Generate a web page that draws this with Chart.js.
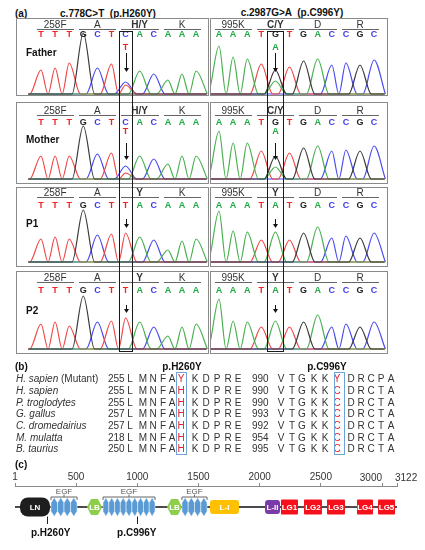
<!DOCTYPE html>
<html>
<head>
<meta charset="utf-8">
<title>Sanger traces, conservation and domain map</title>
<script src="https://cdn.jsdelivr.net/npm/chart.js@4.4.1/dist/chart.umd.min.js"></script>
<style>
  body { margin: 0; background: #fff; }
  #page { position: relative; width: 425px; height: 550px; overflow: hidden; font-family: "Liberation Sans", Arial, sans-serif; color: #222; }
  #page canvas { position: absolute; }
  .t { position: absolute; white-space: pre; line-height: 1; }
  .box { position: absolute; box-sizing: border-box; pointer-events: none; }
</style>
</head>
<body>
<div id="page"></div>
<script>
// ---------- (a) Sanger traces ----------
const leftCallsParent = 'TTTGCTCACAAA';
const leftCallsPatient = 'TTTGCTTACAAA';
const rightCallsParent = 'AAATGTGACCGC';
const rightCallsPatient = 'AAATATGACCGC';
const leftCodonsParent = ['258F', 'A', 'H/Y', 'K'];
const leftCodonsPatient = ['258F', 'A', 'Y', 'K'];
const rightCodonsParent = ['995K', 'C/Y', 'D', 'R'];
const rightCodonsPatient = ['995K', 'Y', 'D', 'R'];
const sampleNames = ['Father', 'Mother', 'P1', 'P2'];
const leftMutIndex = 6;
const rightMutIndex = 4;
const secondCalls = ['T', 'A'];

// peak heights (px above baseline)
const leftPeakHeights = [
  [24, 26, 31, 61, 26, 30, 12, 23, 20, 14, 20, 23],
  [23, 23, 23, 53, 25, 26, 13, 23, 20, 15, 23, 23],
  [23, 25, 23, 52, 27, 28, 29, 25, 22, 12, 21, 23],
  [25, 27, 23, 53, 27, 28, 31, 27, 22, 13, 22, 25]
];
const rightPeakHeights = [
  [48, 37, 35, 30, 24, 27, 33, 35, 29, 31, 29, 34],
  [48, 36, 36, 28, 23, 26, 31, 33, 28, 29, 28, 33],
  [51, 31, 30, 22, 30, 22, 29, 35, 24, 26, 24, 29],
  [50, 28, 27, 22, 28, 22, 27, 34, 22, 25, 22, 27]
];
// second (heterozygous) peaks: [base index, base, height]
const leftExtraPeaks = [[[6, 'T', 9]], [[6, 'T', 6]], [], []];
const rightExtraPeaks = [[[4, 'A', 13]], [[4, 'A', 12]], [], []];
const traceRange = [-0.9, 11.75];

// ---------- (b) alignment ----------
const species = ['H. sapien', 'H. sapien', 'P. troglodytes', 'G. gallus', 'C. dromedairius', 'M. mulatta', 'B. taurius'];
const speciesNote = [' (Mutant)', '', '', '', '', '', ''];
const startA = [255, 255, 255, 257, 257, 218, 250];
const seqA = ['LMNFAYKDPRE', 'LMNFAHKDPRE', 'LMNFAHKDPRE', 'LMNFAHKDPRE', 'LMNFAHKDPRE', 'LMNFAHKDPRE', 'LMNFAHKDPRE'];
const startB = [990, 990, 990, 993, 992, 954, 995];
const seqB = ['VTGKKYDRCPA', 'VTGKKCDRCTA', 'VTGKKCDRCTA', 'VTGKKCDRCTA', 'VTGKKCDRCTA', 'VTGKKCDRCTA', 'VTGKKCDRCTA'];
const alignMutCol = 5;

// ---------- (c) domain map ----------
const proteinLength = 3122;
const rulerTicks = [1, 500, 1000, 1500, 2000, 2500, 3000, 3122];
const domainNames = ['LN', 'LB', 'LB', 'L-I', 'L-II', 'LG1', 'LG2', 'LG3', 'LG4', 'LG5'];
const domainKinds = ['ln', 'lb', 'lb', 'li', 'lii', 'lg', 'lg', 'lg', 'lg', 'lg'];
const domainStart = [42, 589, 1243, 1594, 2044, 2174, 2362, 2550, 2795, 2967];
const domainEnd = [287, 712, 1365, 1831, 2166, 2313, 2509, 2697, 2926, 3106];
const egfStart = [295, 720, 1365];
const egfEnd = [508, 1145, 1570];
const egfRepeats = [4, 9, 4];
const mutationPos = [260, 996];
const mutationLabels = ['p.H260Y', 'p.C996Y'];

// ---------- layout ----------
const FONT = '"Liberation Sans", Arial, sans-serif';
const page = document.getElementById('page');
const baseColors = { A: '#1faa44', C: '#3b3bf0', G: '#222222', T: '#f02424' };
const traceColors = { A: '#48b04f', C: '#4a4af0', G: '#3a3a3a', T: '#f04848' };

function addText(str, x, y, font, color, align) {
  const el = document.createElement('div');
  el.className = 't';
  el.textContent = str;
  el.style.font = font + ' ' + FONT;
  el.style.color = color || '#222';
  el.style.left = x + 'px';
  el.style.top = y + 'px';
  el.style.transform = align === 'left' ? 'translate(0,-50%)' : 'translate(-50%,-50%)';
  page.appendChild(el);
  return el;
}

function addBox(x, y, w, h, border, bg) {
  const el = document.createElement('div');
  el.className = 'box';
  el.style.left = x + 'px';
  el.style.top = y + 'px';
  el.style.width = w + 'px';
  el.style.height = h + 'px';
  if (border) el.style.border = border;
  if (bg) el.style.background = bg;
  page.appendChild(el);
  return el;
}

function addCanvas(x, y, w, h) {
  const cv = document.createElement('canvas');
  cv.width = w;
  cv.height = h;
  cv.style.left = x + 'px';
  cv.style.top = y + 'px';
  cv.style.width = w + 'px';
  cv.style.height = h + 'px';
  page.appendChild(cv);
  return cv;
}

// one trace per dye: smooth humps on a flat baseline
function buildTrace(calls, heights, extras, base) {
  const halfWidth = 0.8;
  const peaks = [];
  for (let i = 0; i < calls.length; i++) {
    if (calls[i] === base) peaks.push([i, heights[i]]);
  }
  extras.forEach(e => { if (e[1] === base) peaks.push([e[0], e[2]]); });
  peaks.sort((a, b) => a[0] - b[0]);
  const pts = [{ x: traceRange[0], y: 0 }];
  peaks.forEach((p, k) => {
    const prev = peaks[k - 1], next = peaks[k + 1];
    let left = Math.max(p[0] - halfWidth, traceRange[0]);
    if (prev && p[0] - prev[0] < 2 * halfWidth) left = (p[0] + prev[0]) / 2;
    let right = p[0] + halfWidth;
    if (next && next[0] - p[0] < 2 * halfWidth) right = (p[0] + next[0]) / 2;
    if (pts[pts.length - 1].x < left) pts.push({ x: left, y: 0 });
    pts.push({ x: p[0], y: p[1] });
    pts.push({ x: right, y: 0 });
  });
  if (pts[pts.length - 1].x < traceRange[1]) pts.push({ x: traceRange[1], y: 0 });
  return pts;
}

const rowTops = [18, 102, 187, 271];
const rowHeights = [78, 82, 80, 83];
const colLeft = [16, 210];
const colWidth = [193, 178];
const firstBaseX = [25, 9];
const baseSpacing = 14.1;
const codonY = [6, 8, 5, 6];
const letterY = [16, 20, 18, 19];
const secondY = 29;
const nameY = [34, 37, 36, 39];
const arrowY = [[35, 54], [41, 58], [32, 41], [34, 42]];
const baselineGap = [2, 5, 5, 5];

addText('(a)', 15, 13, 'bold 10px', '#111', 'left');
addText('c.778C>T  (p.H260Y)', 108, 13, 'bold 10px', '#111');
addText('c.2987G>A  (p.C996Y)', 292, 12, 'bold 10px', '#111');

const panelCharts = [];
for (let r = 0; r < 4; r++) {
  for (let c = 0; c < 2; c++) {
    const x0 = colLeft[c], y0 = rowTops[r], w = colWidth[c], h = rowHeights[r];
    const isParent = r < 2;
    const calls = c === 0 ? (isParent ? leftCallsParent : leftCallsPatient) : (isParent ? rightCallsParent : rightCallsPatient);
    const codons = c === 0 ? (isParent ? leftCodonsParent : leftCodonsPatient) : (isParent ? rightCodonsParent : rightCodonsPatient);
    const heights = c === 0 ? leftPeakHeights[r] : rightPeakHeights[r];
    const extras = c === 0 ? leftExtraPeaks[r] : rightExtraPeaks[r];
    const mut = c === 0 ? leftMutIndex : rightMutIndex;
    const xMin = -firstBaseX[c] / baseSpacing;
    const xMax = xMin + w / baseSpacing;
    const arrow = arrowY[r];

    const cv = addCanvas(x0, y0, w, h);
    const chart = new Chart(cv, {
      type: 'line',
      data: {
        datasets: ['G', 'A', 'T', 'C'].map(b => ({
          data: buildTrace(calls, heights, extras, b),
          borderColor: traceColors[b],
          borderWidth: 1.2,
          pointRadius: 0,
          cubicInterpolationMode: 'monotone',
          fill: false
        }))
      },
      options: {
        responsive: false,
        animation: false,
        events: [],
        layout: { padding: 0 },
        plugins: { legend: { display: false }, tooltip: { enabled: false } },
        scales: {
          x: { type: 'linear', min: xMin, max: xMax, display: false },
          y: { type: 'linear', min: -baselineGap[r], max: h - baselineGap[r], display: false }
        }
      },
      plugins: [{
        id: 'mutArrow',
        afterDatasetsDraw(ch) {
          const ctx = ch.ctx;
          const ax = Math.round(ch.scales.x.getPixelForValue(mut)) + 0.5;
          ctx.save();
          ctx.strokeStyle = '#111';
          ctx.fillStyle = '#111';
          ctx.lineWidth = 1;
          ctx.beginPath();
          ctx.moveTo(ax, arrow[0]);
          ctx.lineTo(ax, arrow[1] - 3);
          ctx.stroke();
          ctx.beginPath();
          ctx.moveTo(ax - 2.5, arrow[1] - 4);
          ctx.lineTo(ax + 2.5, arrow[1] - 4);
          ctx.lineTo(ax, arrow[1]);
          ctx.closePath();
          ctx.fill();
          ctx.restore();
        }
      }]
    });
    panelCharts.push(chart);

    const px = v => x0 + chart.scales.x.getPixelForValue(v);
    addBox(x0, y0, w, h, '1px solid #8a8a8a');

    // codon labels and their brackets
    codons.forEach((cd, ci) => {
      const bold = ci === Math.floor(mut / 3);
      addText(cd, px(ci * 3 + 1), y0 + codonY[r], (bold ? 'bold ' : '') + '10px', '#333');
      const l = px(ci * 3 - 0.3);
      addBox(l, y0 + codonY[r] + 5, px(ci * 3 + 2.35) - l, 1, null, '#666');
    });
    // base calls
    for (let i = 0; i < calls.length; i++) {
      addText(calls[i], px(i), y0 + letterY[r], 'bold 9px', baseColors[calls[i]]);
    }
    if (isParent) {
      addText(secondCalls[c], px(mut), y0 + secondY, 'bold 9px', baseColors[secondCalls[c]]);
    }
    if (c === 0) addText(sampleNames[r], 26, y0 + nameY[r], 'bold 10px', '#111', 'left');
  }
}

// boxes around the mutated base, through all four rows
[[0, leftMutIndex, 0.5], [1, rightMutIndex, 0.6]].forEach(([c, mut, half]) => {
  const ch = panelCharts[c];
  const l = colLeft[c] + ch.scales.x.getPixelForValue(mut - half);
  const rgt = colLeft[c] + ch.scales.x.getPixelForValue(mut + half);
  addBox(l, 31, rgt - l, 321, '1.4px solid #1a1a1a');
});

// ---------- (b) ----------
const alignRowY = [378, 390, 402, 413, 425, 437, 448];
const colA = [130, 143, 153, 163, 172, 181, 195, 206, 217, 228, 238];
const colB = [281, 292, 302, 314, 325, 337, 351, 361, 371, 381, 391];
addText('(b)', 15, 366, 'bold 10px', '#111', 'left');
addText('p.H260Y', colA[alignMutCol] + 1, 366, 'bold 10px', '#111');
addText('p.C996Y', colB[alignMutCol] - 10, 366, 'bold 10px', '#111');
species.forEach((sp, k) => {
  const y = alignRowY[k];
  const name = addText(sp, 16, y, 'italic 10px', '#333', 'left');
  if (speciesNote[k]) {
    const note = document.createElement('span');
    note.textContent = speciesNote[k];
    note.style.fontStyle = 'normal';
    name.appendChild(note);
  }
  addText(String(startA[k]), 108, y, '10px', '#333', 'left');
  addText(String(startB[k]), 252, y, '10px', '#333', 'left');
  for (let i = 0; i < seqA[k].length; i++) {
    addText(seqA[k][i], colA[i], y, '10px', i === alignMutCol ? '#e8202a' : '#333');
    addText(seqB[k][i], colB[i], y, '10px', i === alignMutCol ? '#e8202a' : '#333');
  }
});
addBox(colA[alignMutCol] - 5.5, 372, 11.5, 83, '1px solid #6fa3d8');
addBox(colB[alignMutCol] - 3.5, 372, 11, 83, '1px solid #6fa3d8');

// ---------- (c) ----------
addText('(c)', 15, 464, 'bold 10px', '#111', 'left');
const mapTop = 465, mapHeight = 85;
const backboneLevel = 21;
const domainHalf = { ln: 9.5, lb: 8, li: 7, lii: 7, lg: 7.5 };
const domainFill = { ln: '#1e1e1e', lb: '#8fce4a', li: '#ffc000', lii: '#7a3aa8', lg: '#f5101c' };
const egfHalf = 9.5;
// the two last ruler labels sit to either side of their ticks
const shiftedTicks = { 3000: 'end', 3122: 'start' };

const mapCanvas = addCanvas(0, mapTop, 425, mapHeight);
const mapChart = new Chart(mapCanvas, {
  type: 'line',
  data: {
    datasets: [{
      data: [{ x: 1, y: backboneLevel }, { x: proteinLength, y: backboneLevel }],
      borderColor: '#111',
      borderWidth: 1.6,
      pointRadius: 0
    }]
  },
  options: {
    responsive: false,
    animation: false,
    events: [],
    layout: { padding: { left: 15, right: 28, top: 6, bottom: 0 } },
    plugins: { legend: { display: false }, tooltip: { enabled: false } },
    scales: {
      x: {
        type: 'linear', position: 'top', min: 1, max: proteinLength,
        afterBuildTicks: axis => { axis.ticks = rulerTicks.map(v => ({ value: v })); },
        ticks: {
          autoSkip: false, maxRotation: 0, padding: 0, color: '#333',
          font: { size: 10, family: FONT },
          callback: v => (shiftedTicks[v] ? '' : String(v))
        },
        grid: { drawOnChartArea: false, tickLength: 3, color: '#888' },
        border: { color: '#888', width: 1 }
      },
      y: { type: 'linear', min: 0, max: 64, reverse: true, display: false }
    }
  },
  plugins: [{
    id: 'domains',
    afterDatasetsDraw(ch) {
      const { ctx, scales: { x, y } } = ch;
      const yc = y.getPixelForValue(backboneLevel);
      ctx.save();
      // EGF repeats and their brackets
      egfStart.forEach((s, g) => {
        const x0 = x.getPixelForValue(s), x1 = x.getPixelForValue(egfEnd[g]);
        const step = (x1 - x0) / egfRepeats[g];
        const top = y.getPixelForValue(backboneLevel - egfHalf), bot = y.getPixelForValue(backboneLevel + egfHalf);
        const hh = bot - top;
        ctx.fillStyle = '#5b9bd5';
        ctx.strokeStyle = '#ffffff';
        ctx.lineWidth = 0.5;
        for (let k = 0; k < egfRepeats[g]; k++) {
          const a = x0 + k * step, b = a + step, m = (a + b) / 2;
          ctx.beginPath();
          ctx.moveTo(m, top);
          ctx.lineTo(b, top + hh * 0.28);
          ctx.lineTo(b, bot - hh * 0.28);
          ctx.lineTo(m, bot);
          ctx.lineTo(a, bot - hh * 0.28);
          ctx.lineTo(a, top + hh * 0.28);
          ctx.closePath();
          ctx.fill();
          ctx.stroke();
        }
        const by = y.getPixelForValue(11);
        ctx.strokeStyle = '#666';
        ctx.lineWidth = 1;
        ctx.beginPath();
        ctx.moveTo(x0, by + 3); ctx.lineTo(x0, by); ctx.lineTo(x1, by); ctx.lineTo(x1, by + 3);
        ctx.moveTo((x0 + x1) / 2, by); ctx.lineTo((x0 + x1) / 2, by - 2.5);
        ctx.stroke();
      });
      // other domains
      domainStart.forEach((s, k) => {
        const kind = domainKinds[k];
        const x0 = x.getPixelForValue(s), x1 = x.getPixelForValue(domainEnd[k]);
        const top = y.getPixelForValue(backboneLevel - domainHalf[kind]);
        const bot = y.getPixelForValue(backboneLevel + domainHalf[kind]);
        ctx.fillStyle = domainFill[kind];
        ctx.beginPath();
        if (kind === 'lb') {
          const d = (x1 - x0) * 0.27;
          ctx.moveTo(x0, yc); ctx.lineTo(x0 + d, top); ctx.lineTo(x1 - d, top);
          ctx.lineTo(x1, yc); ctx.lineTo(x1 - d, bot); ctx.lineTo(x0 + d, bot);
          ctx.closePath();
        } else {
          const rad = kind === 'ln' ? 8 : kind === 'lg' ? 1 : 3;
          ctx.roundRect(x0, top, x1 - x0, bot - top, rad);
        }
        ctx.fill();
      });
      // mutation ticks
      ctx.strokeStyle = '#222';
      ctx.lineWidth = 1;
      mutationPos.forEach(p => {
        const mx = Math.round(x.getPixelForValue(p)) + 0.5;
        ctx.beginPath();
        ctx.moveTo(mx, y.getPixelForValue(backboneLevel + egfHalf));
        ctx.lineTo(mx, y.getPixelForValue(38));
        ctx.stroke();
      });
      ctx.restore();
    }
  }]
});

const mx = v => mapChart.scales.x.getPixelForValue(v);
const my = v => mapTop + mapChart.scales.y.getPixelForValue(v);
const rulerLabelY = my(0) - 9;
Object.keys(shiftedTicks).forEach(v => {
  const el = addText(String(v), mx(Number(v)), rulerLabelY, '10px', '#333', 'left');
  el.style.transform = shiftedTicks[v] === 'end' ? 'translate(-100%,-50%)' : 'translate(-2px,-50%)';
});
egfStart.forEach((s, g) => addText('EGF', mx((s + egfEnd[g]) / 2), my(4.5), '8px', '#555'));
domainStart.forEach((s, k) => {
  addText(domainNames[k], mx((s + domainEnd[k]) / 2), my(backboneLevel), 'bold 8px', '#ffffff');
});
mutationPos.forEach((p, k) => addText(mutationLabels[k], mx(p) + (k === 0 ? 4 : 0), my(46), 'bold 10px', '#111'));
</script>
</body>
</html>
